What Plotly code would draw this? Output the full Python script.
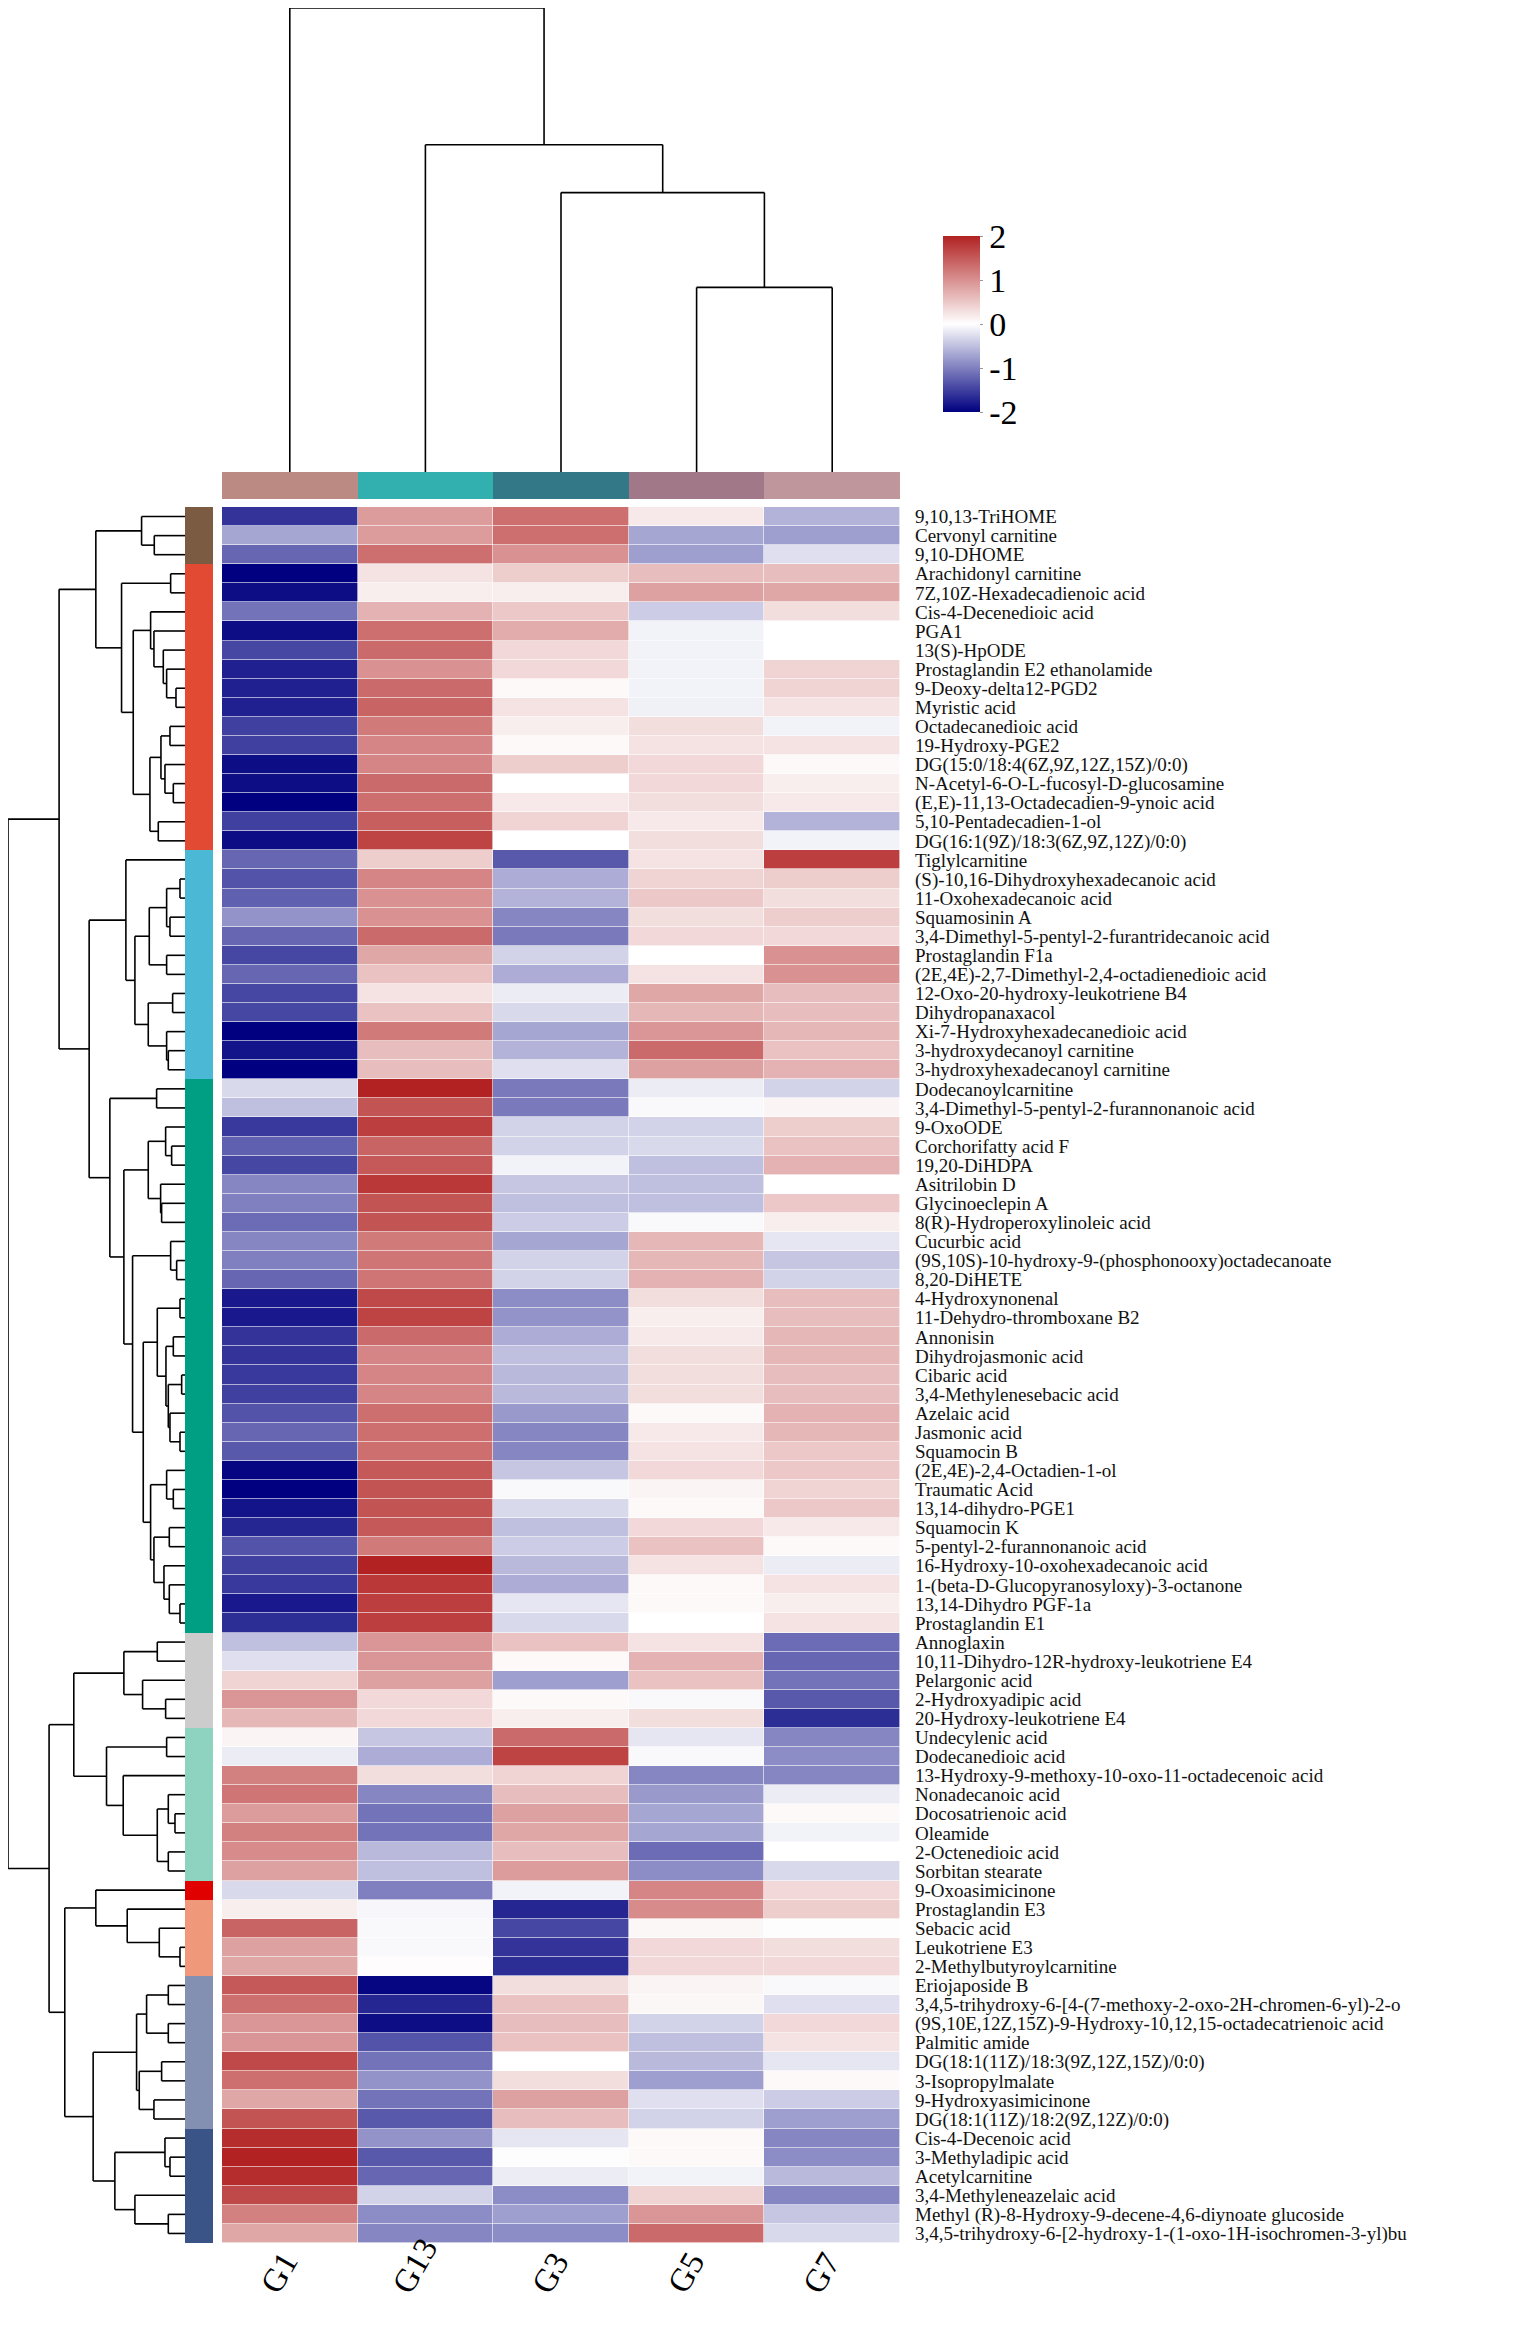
import plotly.graph_objects as go

# ---------------- data ----------------
samples = ["G1", "G13", "G3", "G5", "G7"]
sample_colors = ["#BB8A82", "#32AFAF", "#327887", "#A07887", "#BE969B"]

metabolites = [
    "9,10,13-TriHOME", "Cervonyl carnitine", "9,10-DHOME",
    "Arachidonyl carnitine", "7Z,10Z-Hexadecadienoic acid", "Cis-4-Decenedioic acid", "PGA1",
    "13(S)-HpODE", "Prostaglandin E2 ethanolamide", "9-Deoxy-delta12-PGD2", "Myristic acid",
    "Octadecanedioic acid", "19-Hydroxy-PGE2", "DG(15:0/18:4(6Z,9Z,12Z,15Z)/0:0)",
    "N-Acetyl-6-O-L-fucosyl-D-glucosamine", "(E,E)-11,13-Octadecadien-9-ynoic acid",
    "5,10-Pentadecadien-1-ol", "DG(16:1(9Z)/18:3(6Z,9Z,12Z)/0:0)",
    "Tiglylcarnitine", "(S)-10,16-Dihydroxyhexadecanoic acid", "11-Oxohexadecanoic acid",
    "Squamosinin A", "3,4-Dimethyl-5-pentyl-2-furantridecanoic acid", "Prostaglandin F1a",
    "(2E,4E)-2,7-Dimethyl-2,4-octadienedioic acid", "12-Oxo-20-hydroxy-leukotriene B4",
    "Dihydropanaxacol", "Xi-7-Hydroxyhexadecanedioic acid", "3-hydroxydecanoyl carnitine",
    "3-hydroxyhexadecanoyl carnitine",
    "Dodecanoylcarnitine", "3,4-Dimethyl-5-pentyl-2-furannonanoic acid", "9-OxoODE",
    "Corchorifatty acid F", "19,20-DiHDPA", "Asitrilobin D", "Glycinoeclepin A",
    "8(R)-Hydroperoxylinoleic acid", "Cucurbic acid",
    "(9S,10S)-10-hydroxy-9-(phosphonooxy)octadecanoate", "8,20-DiHETE", "4-Hydroxynonenal",
    "11-Dehydro-thromboxane B2", "Annonisin", "Dihydrojasmonic acid", "Cibaric acid",
    "3,4-Methylenesebacic acid", "Azelaic acid", "Jasmonic acid", "Squamocin B",
    "(2E,4E)-2,4-Octadien-1-ol", "Traumatic Acid", "13,14-dihydro-PGE1", "Squamocin K",
    "5-pentyl-2-furannonanoic acid", "16-Hydroxy-10-oxohexadecanoic acid",
    "1-(beta-D-Glucopyranosyloxy)-3-octanone", "13,14-Dihydro PGF-1a", "Prostaglandin E1",
    "Annoglaxin", "10,11-Dihydro-12R-hydroxy-leukotriene E4", "Pelargonic acid",
    "2-Hydroxyadipic acid", "20-Hydroxy-leukotriene E4",
    "Undecylenic acid", "Dodecanedioic acid", "13-Hydroxy-9-methoxy-10-oxo-11-octadecenoic acid",
    "Nonadecanoic acid", "Docosatrienoic acid", "Oleamide", "2-Octenedioic acid", "Sorbitan stearate",
    "9-Oxoasimicinone",
    "Prostaglandin E3", "Sebacic acid", "Leukotriene E3", "2-Methylbutyroylcarnitine",
    "Eriojaposide B", "3,4,5-trihydroxy-6-[4-(7-methoxy-2-oxo-2H-chromen-6-yl)-2-o",
    "(9S,10E,12Z,15Z)-9-Hydroxy-10,12,15-octadecatrienoic acid", "Palmitic amide",
    "DG(18:1(11Z)/18:3(9Z,12Z,15Z)/0:0)", "3-Isopropylmalate", "9-Hydroxyasimicinone",
    "DG(18:1(11Z)/18:2(9Z,12Z)/0:0)",
    "Cis-4-Decenoic acid", "3-Methyladipic acid", "Acetylcarnitine", "3,4-Methyleneazelaic acid",
    "Methyl (R)-8-Hydroxy-9-decene-4,6-diynoate glucoside",
    "3,4,5-trihydroxy-6-[2-hydroxy-1-(1-oxo-1H-isochromen-3-yl)bu",
]

group_counts = [3, 15, 12, 29, 5, 8, 1, 4, 8, 6]
group_colors = ["#7B5B42", "#E34A33", "#4BB8D6", "#009E82", "#CCCCCC",
                "#8DD3C0", "#E00000", "#F0987A", "#8390B2", "#3B5488"]

G1 = [-1.6, -0.7, -1.2, -2.0, -1.9, -1.1, -1.9, -1.45, -1.75, -1.75, -1.75, -1.5, -1.5, -1.9, -1.9, -2.0, -1.5, -1.9,
      -1.2, -1.35, -1.25, -0.85, -1.2, -1.45, -1.2, -1.45, -1.45, -2.0, -1.85, -2.0,
      -0.3, -0.5, -1.55, -1.25, -1.45, -0.95, -1.0, -1.15, -0.95, -1.0, -1.2, -1.8, -1.8, -1.6, -1.6,
      -1.55, -1.5, -1.35, -1.2, -1.3, -1.95, -2.0, -1.85, -1.7, -1.35, -1.5, -1.55, -1.8, -1.65,
      -0.5, -0.25, 0.4, 0.95, 0.65,
      0.1, -0.15, 1.15, 1.25, 0.9, 1.15, 1.05, 0.85,
      -0.3,
      0.15, 1.4, 0.85, 0.8,
      1.5, 1.3, 0.95, 0.95, 1.65, 1.3, 0.8, 1.55,
      1.9, 2.0, 1.9, 1.65, 1.15, 0.8]
G13 = [0.9, 0.9, 1.3, 0.25, 0.15, 0.7, 1.3, 1.35, 1.0, 1.35, 1.4, 1.2, 1.1, 1.1, 1.35, 1.3, 1.45, 1.7,
       0.45, 1.1, 1.0, 1.0, 1.35, 0.8, 0.55, 0.25, 0.55, 1.2, 0.6, 0.6,
       2.0, 1.55, 1.75, 1.4, 1.5, 1.8, 1.55, 1.55, 1.2, 1.25, 1.25, 1.65, 1.7, 1.35, 1.1,
       1.1, 1.1, 1.3, 1.3, 1.3, 1.5, 1.55, 1.55, 1.5, 1.2, 2.0, 1.8, 1.75, 1.75,
       0.95, 0.95, 0.85, 0.35, 0.35,
       -0.45, -0.65, 0.3, -0.95, -1.1, -1.1, -0.55, -0.5,
       -1.0,
       -0.07, -0.05, -0.05, 0.03,
       -1.95, -1.7, -1.9, -1.35, -1.1, -0.85, -1.1, -1.3,
       -0.85, -1.3, -1.2, -0.35, -0.9, -0.95]
G3 = [1.3, 1.3, 1.0, 0.45, 0.15, 0.5, 0.75, 0.35, 0.35, 0.05, 0.25, 0.15, 0.05, 0.45, 0.0, 0.2, 0.4, 0.0,
      -1.3, -0.65, -0.6, -0.95, -1.05, -0.35, -0.65, -0.15, -0.3, -0.7, -0.6, -0.25,
      -1.05, -1.05, -0.35, -0.35, -0.1, -0.45, -0.5, -0.4, -0.7, -0.35, -0.35, -0.9, -0.85, -0.65, -0.5,
      -0.55, -0.55, -0.8, -0.95, -0.95, -0.45, -0.05, -0.3, -0.5, -0.4, -0.55, -0.65, -0.2, -0.3,
      0.55, 0.05, -0.75, 0.05, 0.15,
      1.35, 1.7, 0.4, 0.6, 0.85, 0.8, 0.6, 0.9,
      -0.1,
      -1.7, -1.45, -1.6, -1.65,
      0.3, 0.55, 0.6, 0.55, 0.0, 0.3, 0.85, 0.6,
      -0.2, 0.02, -0.15, -0.9, -0.75, -0.9]
G5 = [0.2, -0.7, -0.75, 0.6, 0.85, -0.4, -0.1, -0.1, -0.1, -0.1, -0.12, 0.3, 0.25, 0.35, 0.35, 0.3, 0.2, 0.3,
      0.25, 0.4, 0.5, 0.3, 0.35, 0.0, 0.25, 0.8, 0.65, 0.95, 1.35, 0.85,
      -0.15, -0.05, -0.35, -0.3, -0.5, -0.5, -0.5, -0.05, 0.65, 0.65, 0.7, 0.3, 0.15, 0.2, 0.3,
      0.3, 0.3, 0.05, 0.2, 0.25, 0.35, 0.1, 0.05, 0.35, 0.55, 0.25, 0.05, 0.05, 0.0,
      0.25, 0.7, 0.55, -0.05, 0.3,
      -0.2, -0.05, -0.95, -0.8, -0.7, -0.7, -1.15, -0.9,
      1.1,
      1.05, 0.07, 0.35, 0.35,
      0.1, 0.07, -0.35, -0.5, -0.55, -0.75, -0.25, -0.35,
      0.05, 0.05, -0.1, 0.4, 0.95, 1.35]
G7 = [-0.6, -0.75, -0.25, 0.6, 0.8, 0.3, 0.0, 0.0, 0.4, 0.4, 0.25, -0.1, 0.25, 0.05, 0.15, 0.2, -0.6, -0.1,
      1.75, 0.45, 0.3, 0.45, 0.35, 1.0, 1.0, 0.6, 0.6, 0.65, 0.55, 0.7,
      -0.35, 0.1, 0.45, 0.55, 0.7, 0.0, 0.5, 0.15, -0.2, -0.45, -0.35, 0.6, 0.6, 0.65, 0.65,
      0.6, 0.6, 0.7, 0.65, 0.5, 0.5, 0.4, 0.5, 0.2, 0.05, -0.15, 0.25, 0.15, 0.25,
      -1.15, -1.2, -1.1, -1.3, -1.65,
      -0.95, -0.9, -0.95, -0.15, 0.05, -0.1, 0.0, -0.3,
      0.35,
      0.45, 0.02, 0.3, 0.35,
      -0.05, -0.25, 0.35, 0.25, -0.2, 0.05, -0.4, -0.75,
      -0.95, -0.9, -0.55, -0.95, -0.45, -0.3]

# column clustering: [height, left, right]
col_tree = [465, 0, [328, 1, [280, 2, [185, 3, 4]]]]

# row clustering (leaf = row index): [height, left, right]
row_tree = [530,
    [377,
        [267,
            [130, 0, [92, 1, 2]],
            [190, [43, 3, 4],
                [155,
                    [103, 5, [93, 6, [65, 7, [55, 8, [27, 9, 10]]]]],
                    [105, [72, [45, 11, 12], [60, 13, [35, 14, 15]]], [80, 16, 17]]]]],
        [287,
            [177, 18,
                [150,
                    [107, [55, [15, 19, 20], [45, 21, 22]], [55, 23, 24]],
                    [110, [37, 25, 26], [55, 27, [50, 28, 29]]]]],
            [225, [85, 30, 31],
                [183,
                    [110, [58, 32, [40, 33, 34]], [73, 35, [70, 36, 37]]],
                    [157, [43, 38, [25, 39, 40]],
                        [125,
                            [83, [15, 41, 42], [57, [35, 43, 44], [50, [10, 45, 46], [45, 47, [15, 48, 49]]]]],
                            [103, [55, 50, [35, 51, 52]],
                                [93, [47, 53, 54], [63, 55, [47, 56, [15, 57, 58]]]]]]]]]]],
    [407,
        [333,
            [183, [83, 59, 60], [127, 61, [58, 62, 63]]],
            [235, [55, 64, 65], [185, 66, [83, [50, 67, [30, 68, 69]], [50, 70, 71]]]]],
        [360,
            [267, 72, [173, 73, [77, 74, [15, 75, 76]]]],
            [275,
                [145, [115, [50, 77, 78], [50, 79, 80]], [137, [70, 81, 82], [93, 83, 84]]],
                [210, [60, 85, [45, 86, 87]], [150, 88, [50, 89, 90]]]]]]]

# ---------------- helpers ----------------
W, H = 1519, 2320
OFF = 8


def fx(px):
    return min(1.0, max(0.0, (px - OFF) / W))


def fy(py):
    return min(1.0, max(0.0, 1 - (py - OFF) / H))


def tree_segments(node, segs):
    if isinstance(node, int):
        return float(node), 0.0
    h, a, b = node
    pa, ha = tree_segments(a, segs)
    pb, hb = tree_segments(b, segs)
    segs.append(((pa, ha), (pa, h)))
    segs.append(((pb, hb), (pb, h)))
    segs.append(((pa, h), (pb, h)))
    return (pa + pb) / 2, h


def discrete_scale(colors):
    n = len(colors)
    sc = []
    for i, c in enumerate(colors):
        sc.append([i / n, c])
        sc.append([(i + 1) / n, c])
    return sc


n_rows = len(metabolites)
row_group = []
for gi, cnt in enumerate(group_counts):
    row_group += [gi] * cnt

z = [[G1[i], G13[i], G3[i], G5[i], G7[i]] for i in range(n_rows)]

fig = go.Figure()

# main heatmap
fig.add_trace(go.Heatmap(
    z=z, x=list(range(5)), y=list(range(n_rows)),
    colorscale=[[0, "#000080"], [0.5, "#FFFFFF"], [1, "#B22222"]],
    zmin=-2, zmax=2, xgap=0.6, ygap=0.6,
    xaxis="x", yaxis="y",
    colorbar=dict(x=fx(943), xanchor="left", y=fy(324), yanchor="middle",
                  len=176, lenmode="pixels", thickness=37, thicknessmode="pixels",
                  tickvals=[-2, -1, 0, 1, 2], ticktext=["-2", "-1", "0", "1", "2"],
                  tickfont=dict(family="Liberation Serif", size=34, color="black"),
                  outlinewidth=0, ticks="outside", ticklen=3, tickcolor="#999999",
                  xpad=0, ypad=0),
))

# row annotation strip
fig.add_trace(go.Heatmap(
    z=[[g] for g in row_group], x=[0], y=list(range(n_rows)),
    colorscale=discrete_scale(group_colors), zmin=-0.5, zmax=len(group_colors) - 0.5,
    showscale=False, xaxis="x2", yaxis="y", hoverinfo="skip",
))

# column annotation strip
fig.add_trace(go.Heatmap(
    z=[list(range(5))], x=list(range(5)), y=[0],
    colorscale=discrete_scale(sample_colors), zmin=-0.5, zmax=4.5,
    showscale=False, xaxis="x", yaxis="y3", hoverinfo="skip",
))

# column dendrogram
segs = []
tree_segments(col_tree, segs)
xs, ys = [], []
for (x0, y0), (x1, y1) in segs:
    xs += [x0, x1, None]
    ys += [y0, y1, None]
fig.add_trace(go.Scatter(x=xs, y=ys, mode="lines", line=dict(color="black", width=1.6),
                         xaxis="x", yaxis="y4", hoverinfo="skip", showlegend=False,
                         cliponaxis=False))

# row dendrogram
segs = []
tree_segments(row_tree, segs)
xs, ys = [], []
for (p0, h0), (p1, h1) in segs:
    xs += [h0, h1, None]
    ys += [p0, p1, None]
fig.add_trace(go.Scatter(x=xs, y=ys, mode="lines", line=dict(color="black", width=1.6),
                         xaxis="x5", yaxis="y", hoverinfo="skip", showlegend=False,
                         cliponaxis=False))

hidden = dict(showgrid=False, zeroline=False, showticklabels=False, ticks="",
              showline=False, automargin=False)

fig.update_layout(
    template="none",
    width=W, height=H,
    margin=dict(l=0, r=0, t=0, b=0, pad=0),
    paper_bgcolor="white", plot_bgcolor="white",
    showlegend=False,
    xaxis=dict(domain=[fx(222), fx(900)], range=[-0.5, 4.5], anchor="y", **hidden),
    yaxis=dict(domain=[fy(2243), fy(507)], range=[n_rows - 0.5, -0.5], anchor="x",
               side="right", tickvals=list(range(n_rows)), ticktext=metabolites,
               tickfont=dict(family="Liberation Serif", size=19, color="#111111"),
               ticks="", showgrid=False, zeroline=False, showline=False,
               ticklabelstandoff=14, automargin=False),
    xaxis2=dict(domain=[fx(185), fx(213)], range=[-0.5, 0.5], anchor="y", **hidden),
    yaxis3=dict(domain=[fy(499), fy(472)], range=[-0.5, 0.5], anchor="x", **hidden),
    yaxis4=dict(domain=[fy(472), fy(8)], range=[0, 465], anchor="x", **hidden),
    xaxis5=dict(domain=[fx(8), fx(185)], range=[530, 0], anchor="y", **hidden),
)

for i, s in enumerate(samples):
    fig.add_annotation(x=i - 0.08, y=fy(2302), xref="x", yref="paper", text=s,
                       textangle=-60, showarrow=False,
                       font=dict(family="Liberation Serif", size=33, color="black"))

fig.write_html("out.html")
